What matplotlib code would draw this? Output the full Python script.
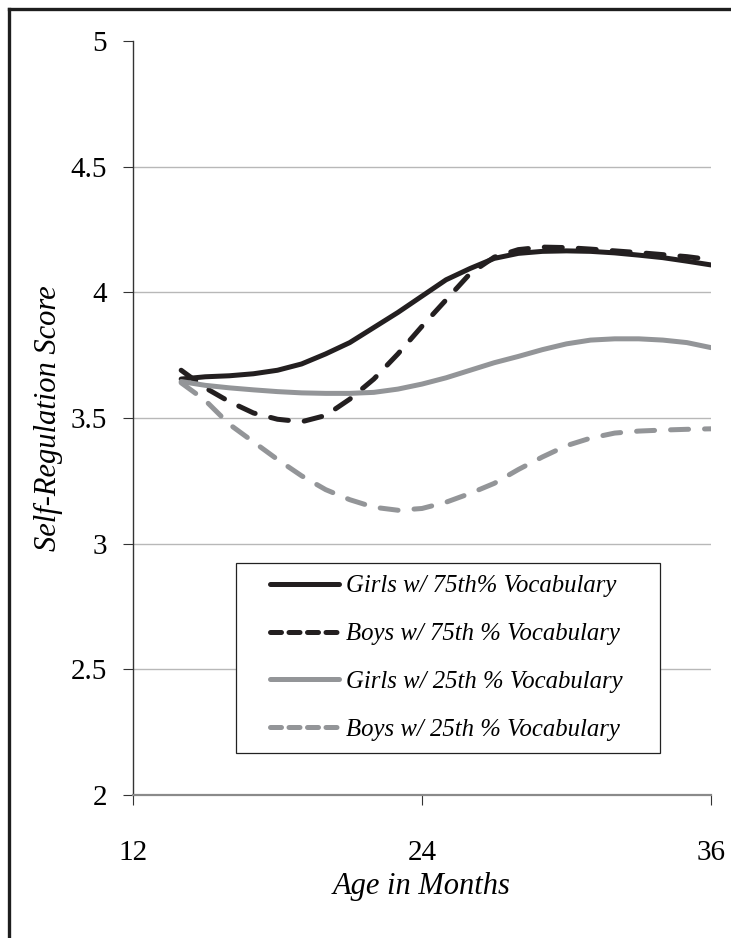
import matplotlib
matplotlib.use("Agg")
import matplotlib.pyplot as plt
from matplotlib.lines import Line2D
from matplotlib.patches import Rectangle
from matplotlib.ticker import FuncFormatter

# model-implied self-regulation trajectories, ages 14-36 months
months = [14, 15, 16, 17, 18, 19, 20, 21, 22, 23, 24, 25,
          26, 27, 28, 29, 30, 31, 32, 33, 34, 35, 36]
girls_75 = [3.655, 3.664, 3.668, 3.676, 3.690, 3.715, 3.755, 3.800, 3.860, 3.920, 3.985, 4.050,
            4.095, 4.135, 4.155, 4.163, 4.165, 4.163, 4.157, 4.148, 4.138, 4.124, 4.109]
boys_75 = [3.690, 3.620, 3.565, 3.520, 3.495, 3.485, 3.510, 3.575, 3.655, 3.755, 3.865, 3.970,
           4.075, 4.140, 4.170, 4.180, 4.178, 4.172, 4.165, 4.158, 4.150, 4.142, 4.130]
girls_25 = [3.645, 3.630, 3.620, 3.612, 3.605, 3.600, 3.598, 3.598, 3.602, 3.615, 3.635, 3.660,
            3.690, 3.720, 3.745, 3.772, 3.795, 3.810, 3.815, 3.815, 3.810, 3.800, 3.780]
boys_25 = [3.640, 3.570, 3.475, 3.405, 3.335, 3.270, 3.215, 3.175, 3.145, 3.133, 3.140, 3.165,
           3.200, 3.240, 3.295, 3.345, 3.390, 3.420, 3.440, 3.448, 3.452, 3.455, 3.457]

labels = ["Girls w/ 75th% Vocabulary", "Boys w/ 75th % Vocabulary",
          "Girls w/ 25th % Vocabulary", "Boys w/ 25th % Vocabulary"]
x_ticks = [12, 24, 36]
y_ticks = [2, 2.5, 3, 3.5, 4, 4.5, 5]

DARK = "#231f20"
GREY = "#939598"

plt.rcParams["font.family"] = ["Liberation Serif", "DejaVu Serif"]

fig = plt.figure(figsize=(7.31, 9.38), dpi=100)
ax = fig.add_axes([133 / 731, 143 / 938, 578 / 731, 754 / 938])

lw = 3.6
ax.plot(months, girls_75, color=DARK, lw=lw, solid_capstyle="round", label=labels[0])
ax.plot(months, boys_75, color=DARK, lw=lw, dashes=(3.6, 3.2),
        dash_capstyle="round", label=labels[1])
ax.plot(months, girls_25, color=GREY, lw=lw, solid_capstyle="round", label=labels[2])
ax.plot(months, boys_25, color=GREY, lw=lw, dashes=(3.6, 3.2),
        dash_capstyle="round", label=labels[3])

ax.set_xlim(12, 36)
ax.set_ylim(2, 5)
ax.set_xticks(x_ticks)
ax.set_yticks(y_ticks)
ax.yaxis.set_major_formatter(FuncFormatter(lambda v, _: f"{v:g}"))

# horizontal gridlines only, none on the top edge
ax.grid(axis="y", color="#b8b8b8", lw=1.0)
ax.set_axisbelow(True)
ax.get_ygridlines()[-1].set_visible(False)

for side in ("top", "right"):
    ax.spines[side].set_visible(False)
ax.spines["left"].set_color("#333333")
ax.spines["left"].set_linewidth(1.0)
ax.spines["bottom"].set_color("#8a8a8a")
ax.spines["bottom"].set_linewidth(1.6)

ax.tick_params(axis="y", direction="out", length=7.5, width=0.8, color="#333333",
               pad=11, labelsize=21)
ax.tick_params(axis="x", direction="out", length=7.5, width=0.8, color="#333333",
               pad=25, labelsize=21)

ax.set_xlabel("Age in Months", fontsize=22, style="italic")
ax.set_ylabel("Self-Regulation Score", fontsize=22, style="italic")
ax.xaxis.set_label_coords(0.5, -0.102)
ax.yaxis.set_label_coords(-0.121, 0.5)

leg = ax.legend(loc="upper left", bbox_to_anchor=(0.216, 0.308), frameon=False,
                borderpad=0, handlelength=2.8, handletextpad=0.25,
                labelspacing=1.03, prop={"style": "italic", "size": 17.8})
leg.set_zorder(6)
for line in leg.get_lines():
    if line.get_linestyle() != "-":
        line.set_dashes((2.2, 1.5))

# box around the legend with wider side margins
fig.canvas.draw()
bb = leg.get_window_extent()
inv = fig.transFigure.inverted()
(fx0, fy0) = inv.transform((bb.x0 - 34, bb.y0 - 12))
(fx1, fy1) = inv.transform((bb.x1 + 38, bb.y1 + 12))
ax.add_patch(Rectangle((fx0, fy0), fx1 - fx0, fy1 - fy0, transform=fig.transFigure,
                       facecolor="white", edgecolor="#222222", lw=0.9, zorder=5,
                       clip_on=False))

# outer frame lines on the left and top
fig.add_artist(Line2D([8.5 / 731, 8.5 / 731], [0, 1 - 9.5 / 938], transform=fig.transFigure,
                      color="#1e1e1e", lw=2.4, solid_capstyle="projecting"))
fig.add_artist(Line2D([8.5 / 731, 1], [1 - 9.5 / 938, 1 - 9.5 / 938], transform=fig.transFigure,
                      color="#1e1e1e", lw=2.4, solid_capstyle="projecting"))

fig.savefig("out.png", dpi=100)
